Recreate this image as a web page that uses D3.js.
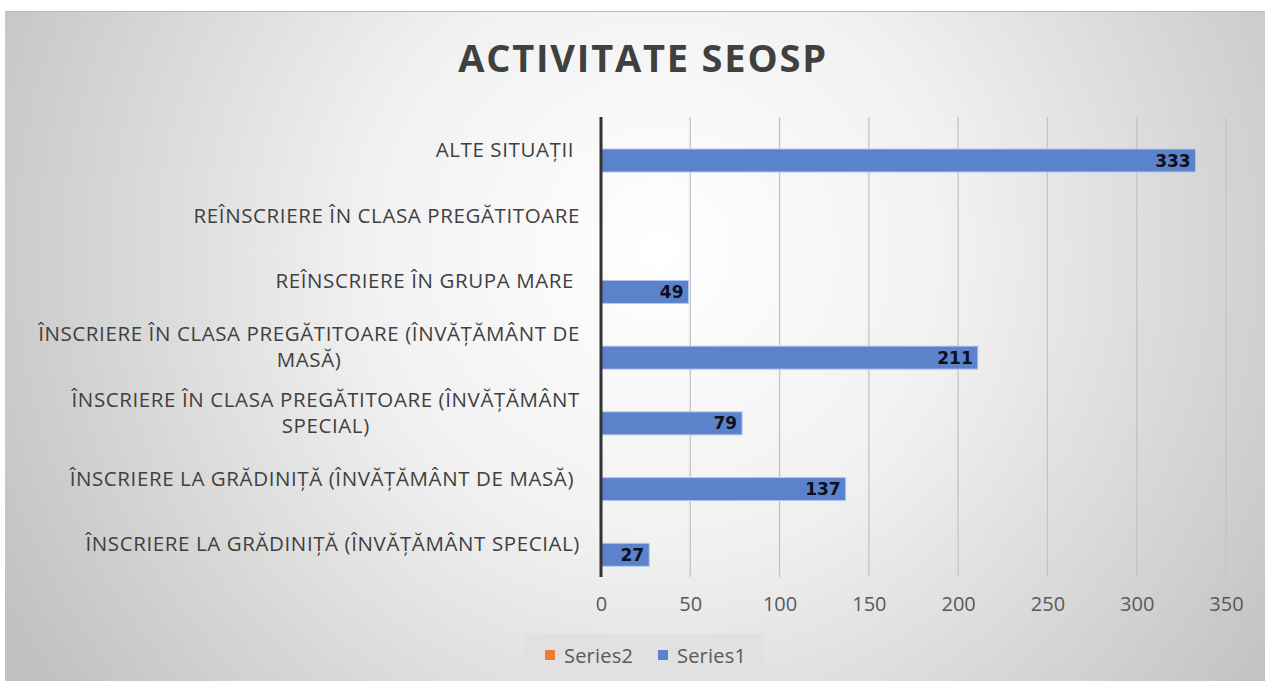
<!DOCTYPE html>
<html>
<head>
<meta charset="utf-8">
<script src="https://cdn.jsdelivr.net/npm/d3@7"></script>
<style>
  body { margin: 0; background: #fff; }
  svg { display: block; }
</style>
</head>
<body>
<script>
'use strict';

(function() {

    const title = "ACTIVITATE SEOSP"

    const categories = [
        "ALTE SITUAȚII ",
        "REÎNSCRIERE ÎN CLASA PREGĂTITOARE",
        "REÎNSCRIERE ÎN GRUPA MARE ",
        "ÎNSCRIERE ÎN CLASA PREGĂTITOARE (ÎNVĂȚĂMÂNT DE MASĂ)",
        "ÎNSCRIERE ÎN CLASA PREGĂTITOARE (ÎNVĂȚĂMÂNT SPECIAL)",
        "ÎNSCRIERE LA GRĂDINIȚĂ (ÎNVĂȚĂMÂNT DE MASĂ) ",
        "ÎNSCRIERE LA GRĂDINIȚĂ (ÎNVĂȚĂMÂNT SPECIAL)"
    ]

    const series1 = [333, null, 49, 211, 79, 137, 27]
    const series2 = [null, 0, null, null, null, null, null]

    const seriesNames = ["Series2", "Series1"]
    const xTicks = [0, 50, 100, 150, 200, 250, 300, 350]

    const W = 1265, H = 681
    const plot = { left: 601, right: 1226, top: 117, bottom: 577 }
    const font = "'Open Sans', sans-serif"

    const svg = d3.select("body").append("svg")
        .attr("width", W)
        .attr("height", H)

    // background gradient like the office chart style
    const defs = svg.append("defs")
    const grad = defs.append("radialGradient")
        .attr("id", "bg")
        .attr("gradientUnits", "userSpaceOnUse")
        .attr("cx", 660).attr("cy", 250).attr("r", 740)
    grad.append("stop").attr("offset", "0%").attr("stop-color", "#ffffff")
    grad.append("stop").attr("offset", "40%").attr("stop-color", "#f1f1f1")
    grad.append("stop").attr("offset", "100%").attr("stop-color", "#c2c2c2")

    svg.append("rect")
        .attr("x", 5).attr("y", 11)
        .attr("width", W - 5).attr("height", H - 11)
        .attr("fill", "url(#bg)")
    svg.append("line")
        .attr("x1", 5).attr("x2", W).attr("y1", 11.5).attr("y2", 11.5)
        .attr("stroke", "#b8b8b8").attr("stroke-width", 1)

    svg.append("text")
        .attr("x", 643).attr("y", 72)
        .attr("text-anchor", "middle")
        .style("font-family", font)
        .style("font-weight", "bold")
        .style("font-size", "38px")
        .style("letter-spacing", "1.8px")
        .style("fill", "#404040")
        .text(title)

    const x = d3.scaleLinear()
        .domain([0, 350])
        .range([plot.left, plot.right])

    const y = d3.scaleBand()
        .domain(categories)
        .range([plot.top, plot.bottom])

    const ySub = d3.scaleBand()
        .domain(seriesNames)
        .range([9, 55])

    // gridlines
    svg.append("g")
        .selectAll("line")
        .data(xTicks.slice(1))
        .enter()
        .append("line")
        .attr("x1", d => x(d)).attr("x2", d => x(d))
        .attr("y1", plot.top).attr("y2", plot.bottom)
        .attr("stroke", "#c4c4c4")
        .attr("stroke-width", 1.3)

    // x axis labels
    const xAxis = d3.axisBottom(x)
        .tickValues(xTicks)
        .tickSize(0)
        .tickPadding(20)
    const gx = svg.append("g")
        .attr("transform", "translate(0," + plot.bottom + ")")
        .call(xAxis)
    gx.select(".domain").remove()
    gx.selectAll("text")
        .style("font-family", font)
        .style("font-size", "20px")
        .style("fill", "#595959")

    const rows1 = categories.map((c, i) => ({ cat: c, s: "Series1", v: series1[i] })).filter(d => d.v !== null)
    const rows2 = categories.map((c, i) => ({ cat: c, s: "Series2", v: series2[i] })).filter(d => d.v !== null)

    // bars
    svg.append("g")
        .selectAll("rect")
        .data(rows1)
        .enter()
        .append("rect")
        .attr("x", x(0))
        .attr("y", d => y(d.cat) + ySub(d.s))
        .attr("width", d => x(d.v) - x(0))
        .attr("height", ySub.bandwidth())
        .attr("fill", "#5b83cc")
        .attr("stroke", "#b4c8ec")
        .attr("stroke-width", 1)

    svg.append("g")
        .selectAll("rect")
        .data(rows2)
        .enter()
        .append("rect")
        .attr("x", x(0))
        .attr("y", d => y(d.cat) + ySub(d.s))
        .attr("width", d => x(d.v) - x(0))
        .attr("height", ySub.bandwidth())
        .attr("fill", "#ed7d31")

    // value labels
    svg.append("g")
        .selectAll("text")
        .data(rows1)
        .enter()
        .append("text")
        .attr("x", d => x(d.v) - 5)
        .attr("y", d => y(d.cat) + ySub(d.s) + ySub.bandwidth() / 2)
        .attr("dy", "0.36em")
        .attr("text-anchor", "end")
        .style("font-family", "'DejaVu Sans', sans-serif")
        .style("font-weight", "bold")
        .style("font-size", "17px")
        .style("fill", "#0f0f1e")
        .text(d => d.v)

    svg.append("g")
        .selectAll("text")
        .data(rows2)
        .enter()
        .append("text")
        .attr("x", d => x(d.v) + 17)
        .attr("y", d => y(d.cat) + ySub(d.s) + ySub.bandwidth() / 2)
        .attr("dy", "0.36em")
        .attr("text-anchor", "start")
        .style("font-family", "'DejaVu Sans', sans-serif")
        .style("font-weight", "bold")
        .style("font-size", "17px")
        .style("fill", "#ffffff")
        .text(d => d.v)

    // category axis line
    svg.append("line")
        .attr("x1", x(0)).attr("x2", x(0))
        .attr("y1", plot.top).attr("y2", plot.bottom)
        .attr("stroke", "#333")
        .attr("stroke-width", 3)

    // category labels, wrapped and centred like excel does
    const maxLabel = 580
    const labelRight = 580
    const labels = svg.append("g")
    categories.forEach(function(cat) {
        const t = labels.append("text")
            .style("font-family", font)
            .style("font-size", "20.5px")
            .style("letter-spacing", "0.6px")
            .style("white-space", "pre")
            .style("fill", "#404040")
        const words = cat.split(" ")
        let lines = [], line = []
        words.forEach(function(w) {
            line.push(w)
            t.text(line.join(" "))
            if (t.node().getComputedTextLength() > maxLabel && line.length > 1) {
                line.pop()
                lines.push(line.join(" "))
                line = [w]
            }
        })
        lines.push(line.join(" "))
        t.text(null)
        let widest = 0
        lines.forEach(function(l) {
            t.text(l)
            widest = Math.max(widest, t.node().getComputedTextLength())
        })
        t.text(null)
        const cx = labelRight - widest / 2
        const cy = y(cat) + y.bandwidth() / 2
        const lh = 26.5
        lines.forEach(function(l, i) {
            t.append("tspan")
                .attr("x", cx)
                .attr("y", cy + (i - (lines.length - 1) / 2) * lh)
                .attr("dy", "0.35em")
                .attr("text-anchor", "middle")
                .text(l)
        })
    })

    // legend
    const legend = svg.append("g")
    legend.append("rect")
        .attr("x", 525).attr("y", 634)
        .attr("width", 238).attr("height", 42)
        .attr("fill", "#e0e0e0")
        .attr("opacity", 0.8)
    const legendColors = { Series2: "#ed7d31", Series1: "#5b83cc" }
    const legendX = [545, 658]
    seriesNames.forEach(function(s, i) {
        legend.append("rect")
            .attr("x", legendX[i]).attr("y", 650)
            .attr("width", 10).attr("height", 10)
            .attr("fill", legendColors[s])
        legend.append("text")
            .attr("x", legendX[i] + 19).attr("y", 656)
            .attr("dy", "0.35em")
            .style("font-family", font)
            .style("font-size", "20px")
            .style("letter-spacing", "0.2px")
            .style("fill", "#595959")
            .text(s)
    })

})()
</script>
</body>
</html>
